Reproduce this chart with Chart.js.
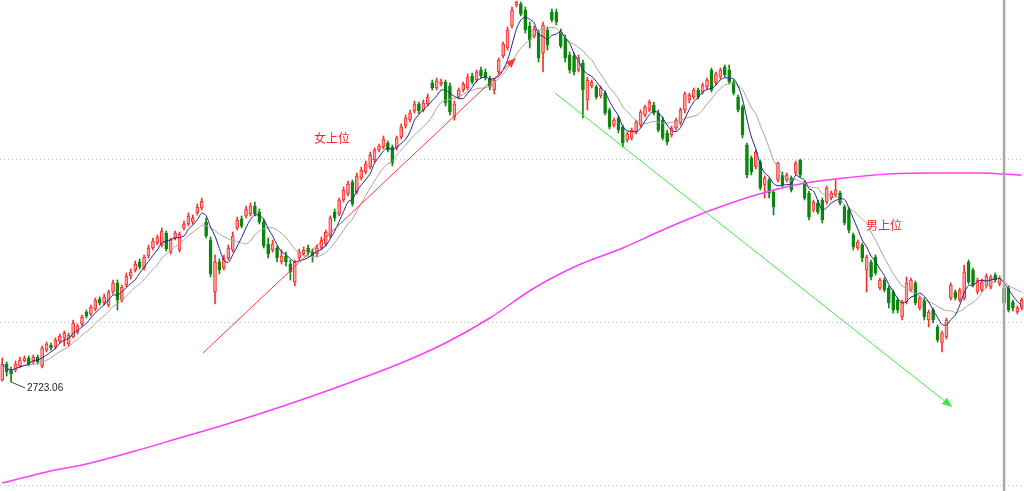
<!DOCTYPE html>
<html><head><meta charset="utf-8">
<script src="https://cdn.jsdelivr.net/npm/chart.js@4.4.0/dist/chart.umd.min.js"></script>
<style>html,body{margin:0;padding:0;background:#fff;overflow:hidden}#wrap{position:relative;width:1024px;height:491px}</style>
</head><body><div id="wrap"><canvas id="c"></canvas></div>
<script>
const openPrices = [
2727,2759,2747,2747,2755,2765,2771,2763,2773,2755,
2787,2797,2793,2805,2811,2799,2813,2823,2839,2863,
2859,2869,2889,2881,2877,2903,2921,2887,2917,2935,
2947,2963,2951,2975,2991,3001,2997,3021,2983,3011,
2987,3031,3039,3043,3061,3071,3043,3007,2903,2963,
2951,2971,2987,3031,3049,3055,3059,3075,3063,3043,
2999,2987,2991,2963,2975,2959,2923,2971,2979,2991,
2983,2979,2991,2999,3015,3063,3059,3087,3099,3123,
3103,3131,3143,3153,3167,3187,3193,3201,3193,3191,
3213,3235,3247,3265,3279,3267,3279,3321,3311,3319,
3323,3315,3253,3293,3307,3311,3335,3327,3347,3343,
3331,3307,3343,3375,3391,3435,3477,3479,3467,3435,
3415,3421,3381,3427,3463,3463,3423,3411,3377,3375,
3347,3361,3287,3315,3313,3295,3301,3267,3237,3251,
3233,3207,3211,3223,3237,3257,3267,3277,3261,3247,
3221,3217,3231,3241,3267,3287,3293,3307,3303,3313,
3347,3321,3333,3353,3347,3323,3293,3273,3197,3171,
3153,3163,3117,3127,3103,3127,3137,3127,3131,3141,
3167,3121,3101,3067,3081,3087,3083,3091,3097,3101,
3073,3067,3017,2991,2997,2947,2963,2973,2911,2927,
2911,2903,2887,2853,2883,2907,2921,2871,2887,2847,
2867,2833,2801,2813,2891,2903,2887,2891,2963,2947,
2903,2907,2915,2913,2937,2919,2911,2911,2883,2863,2871];
const highPrices = [
2771,2763,2753,2765,2773,2775,2775,2777,2777,2795,
2803,2801,2811,2819,2825,2821,2847,2839,2857,2867,
2877,2891,2893,2899,2907,2927,2927,2917,2941,2949,
2965,2969,2977,2997,3011,3017,3031,3025,3011,3025,
3023,3045,3061,3057,3079,3091,3051,3013,2977,2969,
2977,2997,3023,3053,3055,3075,3081,3083,3069,3049,
3011,3007,2995,2987,2983,2967,2967,2989,2993,2997,
2989,2997,3013,3027,3055,3069,3091,3113,3125,3127,
3141,3153,3165,3183,3191,3199,3215,3205,3197,3215,
3239,3257,3267,3285,3283,3287,3299,3327,3331,3329,
3327,3321,3285,3311,3323,3339,3341,3347,3353,3349,
3335,3331,3371,3403,3433,3473,3485,3483,3473,3443,
3435,3427,3443,3433,3469,3469,3429,3417,3383,3381,
3377,3367,3333,3327,3317,3315,3305,3271,3251,3255,
3237,3223,3231,3247,3267,3277,3287,3283,3267,3253,
3227,3235,3251,3271,3303,3301,3311,3311,3321,3331,
3351,3343,3351,3357,3357,3327,3297,3277,3201,3175,
3187,3167,3135,3131,3107,3163,3143,3141,3135,3165,
3169,3125,3105,3087,3087,3091,3115,3105,3127,3105,
3077,3071,3021,3007,3001,2977,2967,2977,2931,2931,
2915,2907,2891,2887,2933,2931,2925,2895,2891,2867,
2871,2837,2825,2851,2921,2907,2911,2957,2967,2951,
2931,2929,2939,2937,2941,2935,2915,2915,2887,2875,2891];
const lowPrices = [
2725,2735,2723.06,2743,2751,2763,2755,2759,2759,2751,
2783,2787,2789,2801,2795,2795,2811,2819,2835,2851,
2855,2865,2877,2877,2873,2899,2867,2883,2913,2929,
2943,2949,2947,2971,2987,2997,2993,2985,2979,3007,
2983,3027,3035,3039,3057,3067,3011,2933,2879,2939,
2947,2967,2983,3027,3031,3051,3055,3055,3039,2991,
2971,2983,2963,2959,2955,2927,2915,2967,2975,2977,
2963,2973,2987,2995,3011,3045,3055,3083,3095,3075,
3099,3127,3139,3149,3163,3183,3189,3183,3155,3187,
3209,3231,3243,3261,3259,3263,3275,3307,3307,3315,
3275,3257,3247,3289,3303,3307,3319,3323,3331,3327,
3307,3299,3339,3371,3387,3431,3473,3455,3421,3391,
3411,3363,3343,3387,3443,3437,3391,3363,3341,3337,
3343,3251,3267,3311,3289,3291,3257,3229,3233,3221,
3193,3203,3207,3219,3233,3253,3263,3257,3223,3207,
3197,3213,3227,3237,3261,3281,3289,3289,3299,3309,
3303,3317,3329,3333,3319,3297,3263,3211,3131,3137,
3149,3107,3091,3091,3057,3123,3113,3123,3103,3137,
3133,3087,3047,3063,3059,3041,3079,3087,3093,3077,
3037,3021,2987,2987,2963,2903,2927,2937,2907,2903,
2871,2861,2861,2847,2879,2903,2877,2867,2847,2833,
2841,2803,2783,2809,2887,2887,2883,2887,2919,2913,
2899,2903,2911,2909,2923,2915,2877,2863,2865,2859,2867];
const closePrices = [
2759,2743,2739,2759,2767,2771,2759,2773,2763,2791,
2799,2791,2807,2815,2821,2817,2841,2835,2853,2855,
2873,2887,2881,2893,2903,2921,2887,2913,2935,2943,
2959,2953,2973,2991,3005,3013,3025,2989,3007,3021,
3019,3039,3055,3051,3073,3085,3015,2939,2963,2947,
2971,2991,3015,3047,3035,3069,3075,3059,3043,2995,
2979,2999,2971,2975,2963,2943,2963,2983,2987,2983,
2975,2991,3007,3023,3051,3051,3087,3107,3119,3079,
3135,3147,3159,3177,3187,3195,3209,3187,3161,3211,
3233,3251,3261,3279,3265,3281,3293,3311,3325,3323,
3281,3263,3279,3307,3319,3333,3323,3343,3335,3331,
3313,3327,3367,3399,3427,3467,3483,3459,3427,3407,
3429,3371,3437,3397,3447,3443,3395,3371,3347,3343,
3371,3307,3327,3323,3293,3311,3261,3233,3247,3227,
3201,3219,3227,3243,3263,3273,3283,3261,3227,3211,
3203,3231,3247,3267,3299,3297,3307,3293,3317,3327,
3307,3339,3347,3337,3323,3301,3267,3217,3137,3143,
3183,3111,3131,3101,3073,3161,3117,3137,3107,3161,
3137,3091,3053,3083,3063,3047,3111,3101,3107,3081,
3041,3027,2993,3003,2971,2973,2933,2941,2927,2907,
2881,2867,2867,2883,2921,2927,2881,2891,2853,2863,
2847,2807,2821,2847,2917,2891,2907,2943,2923,2917,
2927,2923,2935,2933,2927,2931,2881,2867,2871,2871,2887];
const longMaIndex = [0,10,20,30,40,50,60,70,80,90,100,110,120,130,140,150,160,170,180,190,200,210,220,230];
const longMaValues = [2521,2543,2561,2585,2611,2637,2665,2695,2727,2761,2801,2851,2911,2957,2991,3031,3067,3097,3119,3131,3139,3141,3141,3137];
const gridValues = [2517, 2843, 3169];
const markerIndex = 226;
const lowLabelIndex = 2;
const textNotes = [
  {text: '女上位', index: 74.4, price: 3211},
  {text: '男上位', index: 198.9, price: 3037}
];
const arrowNotes = [
  {from: [45.3, 2781], to: [115.9, 3371], color: '#ff3a3a'},
  {from: [124.7, 3301], to: [214.3, 2673], color: '#3ee83e'}
];

const labels = closePrices.map((_, i) => String(i));
function movingAvg(arr, n) {
  return arr.map((_, i) => {
    const s = Math.max(0, i - n + 1);
    let sum = 0;
    for (let k = s; k <= i; k++) sum += arr[k];
    return sum / (i - s + 1);
  });
}
const ma5 = movingAvg(closePrices, 5);
const ma10 = movingAvg(closePrices, 10);
const longMa = closePrices.map(() => null);
longMaIndex.forEach((ix, k) => { longMa[ix] = longMaValues[k]; });
const isUp = closePrices.map((c, i) => c >= openPrices[i]);
const bodies = closePrices.map((c, i) => [openPrices[i], c]);
const wicks = closePrices.map((c, i) => [lowPrices[i], highPrices[i]]);
const upLine = '#ff2b2b', upFill = '#ffa3a3', downCol = '#0b870b';

const overlay = {
  id: 'overlay',
  afterDatasetsDraw(chart) {
    const {ctx, chartArea} = chart;
    const x = chart.scales.x, y = chart.scales.y;
    ctx.save();
    // arrows
    arrowNotes.forEach(a => {
      const x1 = x.getPixelForValue(a.from[0]), y1 = y.getPixelForValue(a.from[1]);
      const x2 = x.getPixelForValue(a.to[0]), y2 = y.getPixelForValue(a.to[1]);
      const ang = Math.atan2(y2 - y1, x2 - x1);
      const L = 10, W = 4;
      ctx.strokeStyle = a.color; ctx.fillStyle = a.color; ctx.lineWidth = 1;
      ctx.beginPath(); ctx.moveTo(x1, y1);
      ctx.lineTo(x2 - L * Math.cos(ang), y2 - L * Math.sin(ang)); ctx.stroke();
      const bx = x2 - L * Math.cos(ang), by = y2 - L * Math.sin(ang);
      ctx.beginPath();
      ctx.moveTo(x2, y2);
      ctx.lineTo(bx + W * Math.sin(ang), by - W * Math.cos(ang));
      ctx.lineTo(bx - W * Math.sin(ang), by + W * Math.cos(ang));
      ctx.closePath(); ctx.fill();
    });
    // text notes
    ctx.font = '12px "Noto Sans CJK SC", sans-serif';
    ctx.fillStyle = '#ff2222';
    ctx.textAlign = 'center'; ctx.textBaseline = 'middle';
    textNotes.forEach(t => {
      ctx.fillText(t.text, x.getPixelForValue(t.index), y.getPixelForValue(t.price));
    });
    // low label
    const px = x.getPixelForValue(lowLabelIndex), py = y.getPixelForValue(lowPrices[lowLabelIndex]);
    ctx.strokeStyle = '#444'; ctx.lineWidth = 1;
    ctx.beginPath(); ctx.moveTo(px, py); ctx.lineTo(px + 14, py + 6); ctx.stroke();
    ctx.font = '10px "Liberation Sans", Arial, sans-serif';
    ctx.fillStyle = '#222'; ctx.textAlign = 'left'; ctx.textBaseline = 'middle';
    ctx.fillText(lowPrices[lowLabelIndex].toFixed(2), px + 16, py + 6);
    // vertical marker
    const mx = x.getPixelForValue(markerIndex);
    ctx.strokeStyle = '#a8a8a8'; ctx.lineWidth = 2.5;
    ctx.beginPath(); ctx.moveTo(mx, chartArea.top); ctx.lineTo(mx, chartArea.bottom); ctx.stroke();
    ctx.restore();
  }
};

new Chart(document.getElementById('c'), {
  type: 'bar',
  data: {
    labels,
    datasets: [
      {type: 'line', data: ma5, borderColor: '#23238f', borderWidth: 1, pointRadius: 0, tension: 0.3},
      {type: 'line', data: ma10, borderColor: '#a4a4a4', borderWidth: 1, pointRadius: 0, tension: 0.3},
      {type: 'line', data: longMa, borderColor: '#ff3cff', borderWidth: 1.5, pointRadius: 0, spanGaps: true, cubicInterpolationMode: 'monotone'},
      {type: 'bar', data: bodies, grouped: false, barThickness: 3, borderWidth: 1, borderSkipped: false,
        backgroundColor: isUp.map(u => u ? upFill : downCol), borderColor: isUp.map(u => u ? upLine : downCol)},
      {type: 'bar', data: wicks, grouped: false, barThickness: 1, borderWidth: 0,
        backgroundColor: isUp.map(u => u ? upLine : downCol)}
    ]
  },
  options: {
    responsive: true, maintainAspectRatio: false, animation: false,
    layout: {padding: 0},
    plugins: {legend: {display: false}, tooltip: {enabled: false}},
    scales: {
      x: {display: false, offset: true},
      y: {
        min: 2505, max: 3487,
        afterBuildTicks: ax => { ax.ticks = gridValues.map(v => ({value: v})); },
        ticks: {display: false},
        grid: {color: '#bcbcbc', drawTicks: false, lineWidth: 1},
        border: {display: false, dash: [1, 3]}
      }
    }
  },
  plugins: [overlay]
});
</script>
</body></html>
